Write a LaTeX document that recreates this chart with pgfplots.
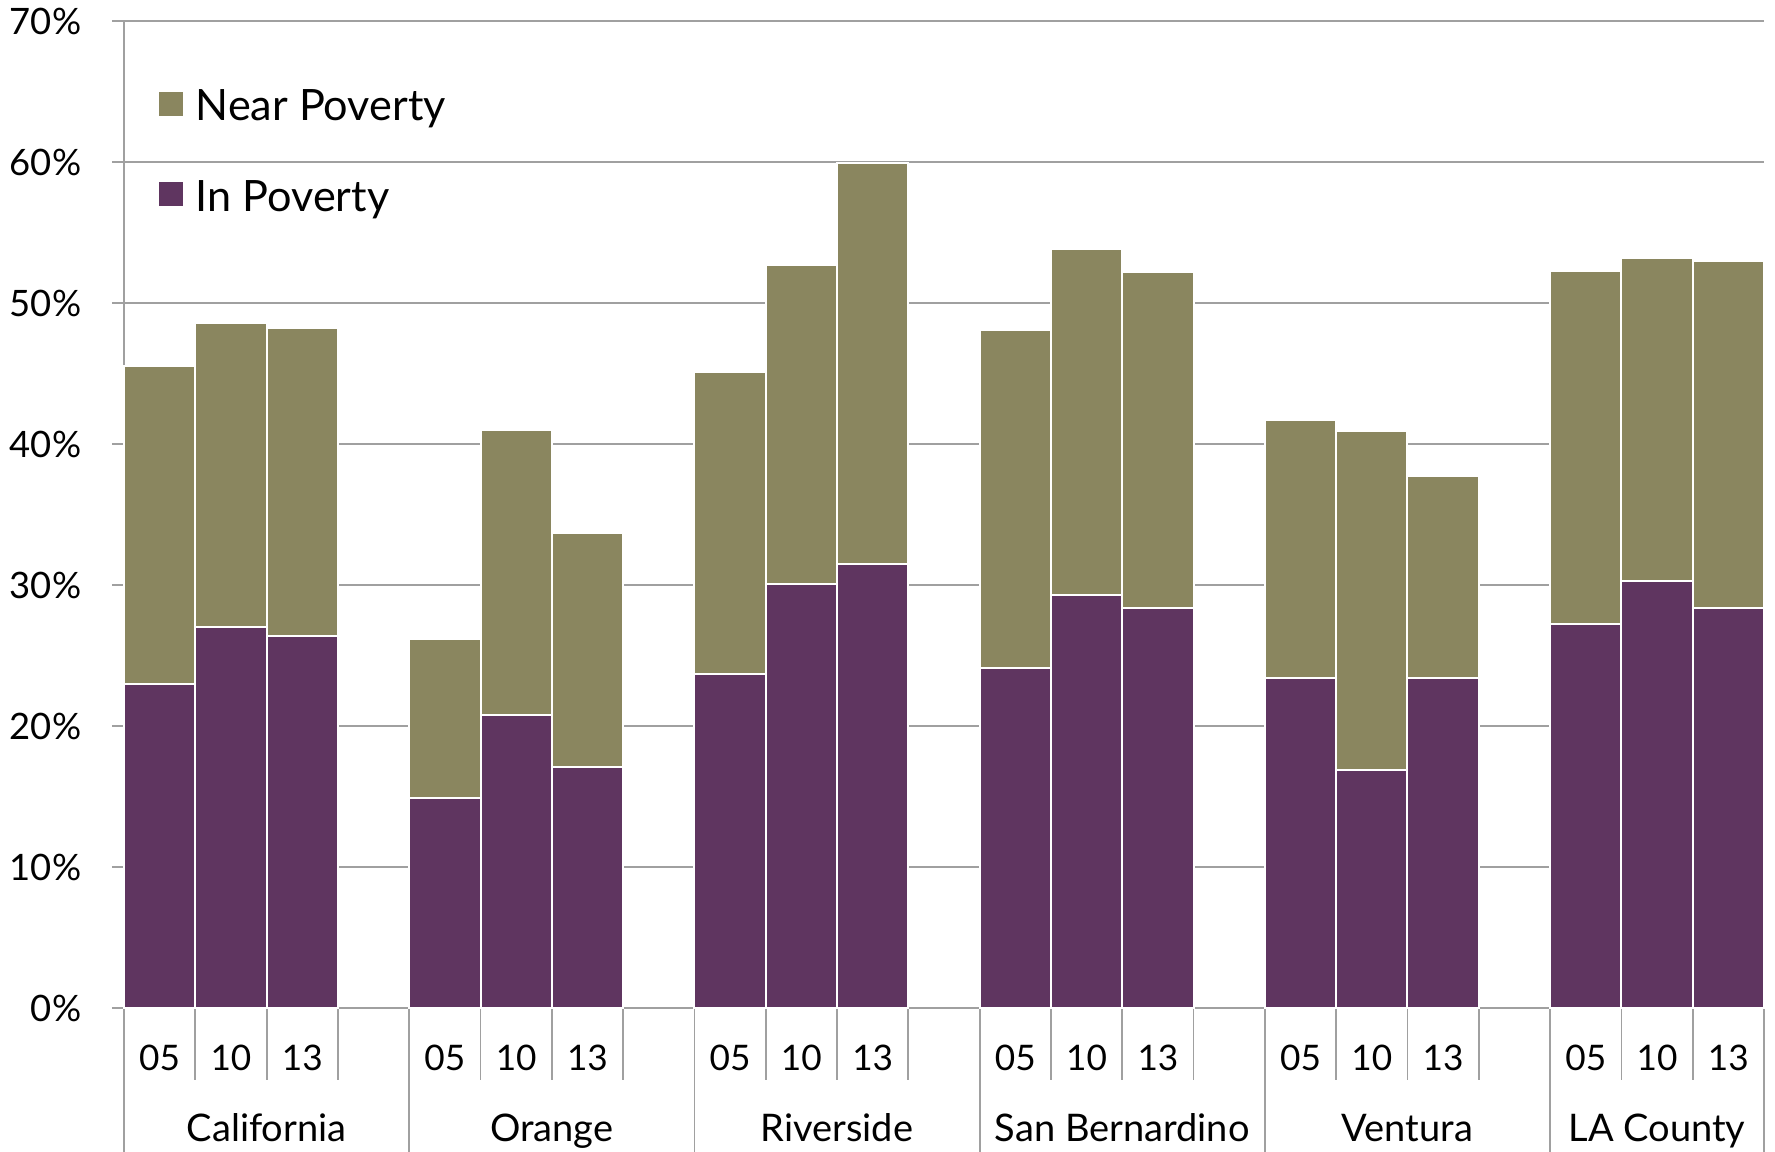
\documentclass[border=0pt]{standalone}
\usepackage{pgfplots}
\usepackage{pgfplotstable}
\pgfplotsset{compat=1.18}
\usepackage{fontspec}
\setmainfont{Lato}
\definecolor{near}{RGB}{138,134,95}
\definecolor{inpov}{RGB}{95,53,96}
\definecolor{gridc}{RGB}{160,160,160}

\pgfplotsset{
  sqlegend/.style={legend image code/.code={\path[##1, draw=none] (0pt,-1.85pt) rectangle (6pt,4.15pt);}},
}
\tikzset{
  sep/.style={gridc, line width=0.45pt},
  grp/.style={anchor=base, font=\fontsize{9.5}{11}\selectfont, inner sep=0pt},
}

\pgfplotstableread{
x in near
0 23.0 22.5
1 27.0 21.6
2 26.4 21.8
4 14.9 11.3
5 20.8 20.2
6 17.1 16.6
8 23.7 21.4
9 30.1 22.6
10 31.5 28.4
12 24.1 24.0
13 29.3 24.5
14 28.4 23.8
16 23.4 18.3
17 16.9 24.0
18 23.4 14.3
20 27.2 25.1
21 30.3 22.9
22 28.4 24.6
}\data

\begin{document}
\begin{tikzpicture}
\begin{axis}[
  name=ax,
  scale only axis, width=410pt, height=246.75pt,
  xmin=-0.5, xmax=22.5, ymin=0, ymax=70,
  ybar stacked, bar width=1,
  axis x line*=bottom, axis y line*=left,
  axis line style={gridc, line width=0.45pt, -},
  ytick={0,10,...,70},
  yticklabels={0\%,10\%,20\%,30\%,40\%,50\%,60\%,70\%},
  ymajorgrids, grid style={gridc, line width=0.45pt},
  major tick length=3pt, tick align=outside,
  ytick style={gridc, line width=0.45pt},
  yticklabel style={font=\fontsize{9.1}{11}\selectfont, anchor=east, inner sep=0pt, xshift=-7.5pt},
  xtick={0,1,2,4,5,6,8,9,10,12,13,14,16,17,18,20,21,22},
  xticklabels={05,10,13,05,10,13,05,10,13,05,10,13,05,10,13,05,10,13},
  xtick style={draw=none},
  xticklabel style={font=\fontsize{8.8}{10}\selectfont, anchor=center, inner sep=0pt, yshift=-9.4pt},
  clip=false,
  reverse legend,
  legend cell align=left,
  legend style={at={(rel axis cs:0.0207,0.9311)}, anchor=north west, draw=none, fill=none,
    inner sep=0pt, row sep=13.35pt, font=\fontsize{10.8}{13}\selectfont,
    nodes={inner sep=0pt},
    /tikz/every odd column/.append style={column sep=3.25pt}},
]
\addplot[fill=inpov, draw=white, line width=0.5pt, sqlegend] table[x=x,y=in]{\data};
\addlegendentry{In Poverty}
\addplot[fill=near, draw=white, line width=0.5pt, sqlegend] table[x=x,y=near]{\data};
\addlegendentry{Near Poverty}

\draw[sep] (axis cs:0.5,0) -- ++(0pt,-18pt);
\draw[sep] (axis cs:1.5,0) -- ++(0pt,-18pt);
\draw[sep] (axis cs:2.5,0) -- ++(0pt,-18pt);
\draw[sep] (axis cs:4.5,0) -- ++(0pt,-18pt);
\draw[sep] (axis cs:5.5,0) -- ++(0pt,-18pt);
\draw[sep] (axis cs:6.5,0) -- ++(0pt,-18pt);
\draw[sep] (axis cs:8.5,0) -- ++(0pt,-18pt);
\draw[sep] (axis cs:9.5,0) -- ++(0pt,-18pt);
\draw[sep] (axis cs:10.5,0) -- ++(0pt,-18pt);
\draw[sep] (axis cs:12.5,0) -- ++(0pt,-18pt);
\draw[sep] (axis cs:13.5,0) -- ++(0pt,-18pt);
\draw[sep] (axis cs:14.5,0) -- ++(0pt,-18pt);
\draw[sep] (axis cs:16.5,0) -- ++(0pt,-18pt);
\draw[sep] (axis cs:17.5,0) -- ++(0pt,-18pt);
\draw[sep] (axis cs:18.5,0) -- ++(0pt,-18pt);
\draw[sep] (axis cs:20.5,0) -- ++(0pt,-18pt);
\draw[sep] (axis cs:21.5,0) -- ++(0pt,-18pt);
\draw[sep] (axis cs:-0.5,0) -- ++(0pt,-36pt);
\draw[sep] (axis cs:3.5,0) -- ++(0pt,-36pt);
\draw[sep] (axis cs:7.5,0) -- ++(0pt,-36pt);
\draw[sep] (axis cs:11.5,0) -- ++(0pt,-36pt);
\draw[sep] (axis cs:15.5,0) -- ++(0pt,-36pt);
\draw[sep] (axis cs:19.5,0) -- ++(0pt,-36pt);
\draw[sep] (axis cs:22.5,0) -- ++(0pt,-36pt);

\node[grp] at ([yshift=-33.5pt]axis cs:1.5,0) {California};
\node[grp] at ([yshift=-33.5pt]axis cs:5.5,0) {Orange};
\node[grp] at ([yshift=-33.5pt]axis cs:9.5,0) {Riverside};
\node[grp] at ([yshift=-33.5pt]axis cs:13.5,0) {San Bernardino};
\node[grp] at ([yshift=-33.5pt]axis cs:17.5,0) {Ventura};
\node[grp] at ([yshift=-33.5pt]axis cs:21,0) {LA County};
\end{axis}
\pgfresetboundingbox
\useasboundingbox ([xshift=-31pt,yshift=-36pt]ax.south west) rectangle ([xshift=2.75pt,yshift=5.25pt]ax.north east);
\end{tikzpicture}
\end{document}
